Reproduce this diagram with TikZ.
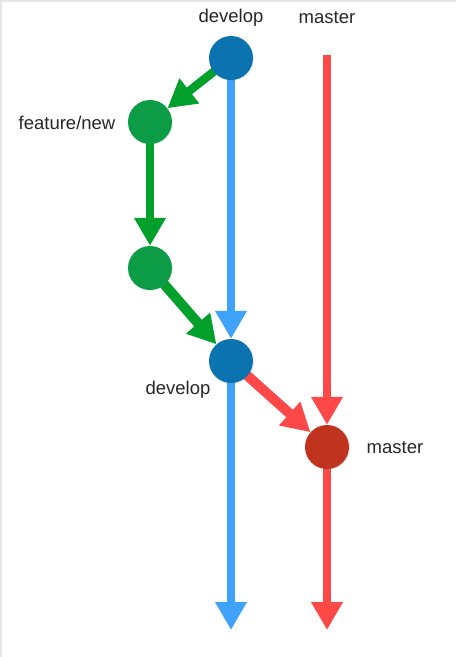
\documentclass[tikz,border=0pt]{standalone}
\usepackage{fontspec}
\setmainfont{Liberation Sans}
\usetikzlibrary{arrows.meta,backgrounds,shadows}
\definecolor{devnode}{HTML}{0B73B0}
\definecolor{devline}{HTML}{40A3FB}
\definecolor{masnode}{HTML}{C0331F}
\definecolor{masline}{HTML}{FF4949}
\definecolor{featnode}{HTML}{0C9C45}
\definecolor{featline}{HTML}{00A02A}
\definecolor{edge}{HTML}{E6E6E6}
\tikzset{
  commit/.style={circle, minimum size=44pt, inner sep=0pt, fill=#1,
    circular drop shadow={shadow xshift=0.6pt, shadow yshift=-0.6pt, opacity=0.25, shadow scale=1.04}},
  flow/.style={line width=8.5pt, draw=#1, -{Triangle[width=30pt,length=28pt,fill=#1]}},
  lbl/.style={font=\fontsize{18.5}{20}\selectfont, text=black!85, inner sep=0pt},
}
\begin{document}
\begin{tikzpicture}[x=1pt,y=-1pt]
\useasboundingbox (0,0) rectangle (456,657);
\draw[edge, line width=1.5pt] (0.75,657) -- (0.75,0.75) -- (456,0.75);

\node[commit=devnode] (d1) at (231,58) {};
\node[commit=featnode] (f1) at (150,122) {};
\node[commit=featnode] (f2) at (150,268) {};
\node[commit=devnode] (d2) at (231,361) {};
\node[commit=masnode] (m) at (327,447) {};

\coordinate (mtop) at (327,55);
\coordinate (dend) at (231,630);
\coordinate (mend) at (327,630);

\node[lbl] (ldev1) at (231,18) {develop};
\node[lbl] (lmas1) at (327,18) {master};
\node[lbl] (lfeat) at (67,123) {feature/new};
\node[lbl] (ldev2) at (178,390) {develop};
\node[lbl] (lmas2) at (395,448) {master};

\begin{pgfonlayer}{background}
\draw[flow=devline] (d1.center) -- (d2);
\draw[flow=devline] (d2.center) -- (dend);
\draw[flow=masline] (mtop) -- (m);
\draw[flow=masline] (m.center) -- (mend);
\draw[flow=masline, line width=10pt] (d2.center) -- (m);
\draw[flow=featline] (d1.center) -- (f1);
\draw[flow=featline] (f1.center) -- (f2);
\draw[flow=featline, line width=10pt] (f2.center) -- (d2);
\end{pgfonlayer}
\end{tikzpicture}
\end{document}
